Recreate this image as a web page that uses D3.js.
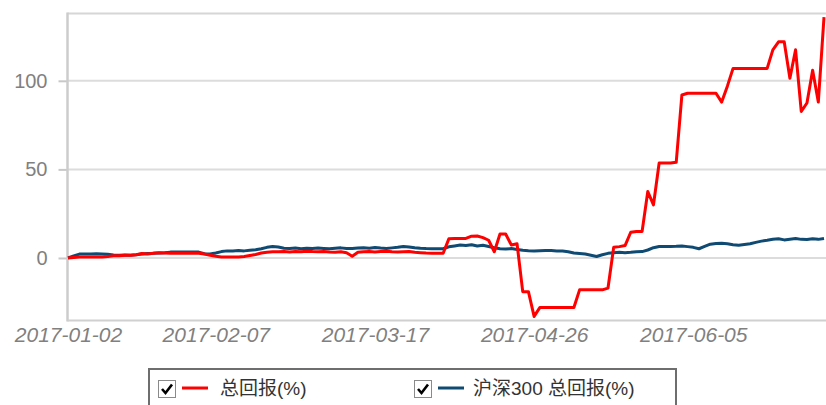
<!DOCTYPE html>
<html>
<head>
<meta charset="utf-8">
<script src="https://cdn.jsdelivr.net/npm/d3@7"></script>
<style>
  body { margin: 0; background: #fff; }
  svg { display: block; font-family: "Liberation Sans", Arial, "Noto Sans CJK SC", sans-serif; }
</style>
</head>
<body>
<div id="chart-area"></div>
<script>
const dates = [
  "2017-01-02","2017-01-03","2017-01-04","2017-01-05","2017-01-06","2017-01-09","2017-01-10","2017-01-11","2017-01-12","2017-01-13",
  "2017-01-16","2017-01-17","2017-01-18","2017-01-19","2017-01-20","2017-01-23","2017-01-24","2017-01-25","2017-01-26","2017-01-27",
  "2017-01-30","2017-01-31","2017-02-01","2017-02-02","2017-02-03","2017-02-06","2017-02-07","2017-02-08","2017-02-09","2017-02-10",
  "2017-02-13","2017-02-14","2017-02-15","2017-02-16","2017-02-17","2017-02-20","2017-02-21","2017-02-22","2017-02-23","2017-02-24",
  "2017-02-27","2017-02-28","2017-03-01","2017-03-02","2017-03-03","2017-03-06","2017-03-07","2017-03-08","2017-03-09","2017-03-10",
  "2017-03-13","2017-03-14","2017-03-15","2017-03-16","2017-03-17","2017-03-20","2017-03-21","2017-03-22","2017-03-23","2017-03-24",
  "2017-03-27","2017-03-28","2017-03-29","2017-03-30","2017-03-31","2017-04-03","2017-04-04","2017-04-05","2017-04-06","2017-04-07",
  "2017-04-10","2017-04-11","2017-04-12","2017-04-13","2017-04-14","2017-04-17","2017-04-18","2017-04-19","2017-04-20","2017-04-21",
  "2017-04-24","2017-04-25","2017-04-26","2017-04-27","2017-04-28","2017-05-01","2017-05-02","2017-05-03","2017-05-04","2017-05-05",
  "2017-05-08","2017-05-09","2017-05-10","2017-05-11","2017-05-12","2017-05-15","2017-05-16","2017-05-17","2017-05-18","2017-05-19",
  "2017-05-22","2017-05-23","2017-05-24","2017-05-25","2017-05-26","2017-05-29","2017-05-30","2017-05-31","2017-06-01","2017-06-02",
  "2017-06-05","2017-06-06","2017-06-07","2017-06-08","2017-06-09","2017-06-12","2017-06-13","2017-06-14","2017-06-15","2017-06-16",
  "2017-06-19","2017-06-20","2017-06-21","2017-06-22","2017-06-23","2017-06-26","2017-06-27","2017-06-28","2017-06-29","2017-06-30",
  "2017-07-03","2017-07-04","2017-07-05","2017-07-06"
];

// 总回报(%)
const fundReturn = [
  0, 0.3, 0.5, 0.5, 0.6, 0.6, 0.5, 0.8, 1.2, 1.3,
  1.5, 1.5, 1.8, 2.5, 2.3, 2.7, 3.0, 2.8, 2.6, 2.6,
  2.6, 2.6, 2.6, 2.6, 2.2, 1.5, 1.0, 0.6, 0.5, 0.5,
  0.6, 0.8, 1.4, 2.0, 2.8, 3.2, 3.5, 3.5, 3.7, 3.4,
  3.6, 3.5, 3.8, 3.6, 3.5, 3.7, 3.4, 3.2, 3.5, 3.0,
  1.0, 3.2, 3.5, 3.6, 3.4, 3.6, 3.8, 3.5, 3.3, 3.5,
  3.6, 3.2, 3.0, 2.8, 2.7, 2.7, 2.7, 10.8, 11, 11,
  11, 12.3, 12.4, 11.5, 10, 3.5, 13.5, 13.5, 7.3, 8,
  -19, -19, -33, -28, -28, -28, -28, -28, -28, -28,
  -18, -18, -18, -18, -18, -17, 6, 6.4, 7, 14.5,
  14.9, 15, 37.5, 30, 53.6, 53.6, 53.6, 54, 92, 93,
  93, 93, 93, 93, 93, 88, 97, 107, 107, 107,
  107, 107, 107, 107, 117.5, 122, 122, 101.5, 117.5, 82.7,
  87.5, 106, 88, 136
];

// 沪深300 总回报(%)
const indexReturn = [
  0, 1.2, 2.2, 2.3, 2.3, 2.4, 2.3, 2.1, 1.7, 1.6,
  1.7, 1.6, 1.8, 2.2, 2.5, 2.6, 2.8, 3.0, 3.3, 3.3,
  3.3, 3.3, 3.3, 3.3, 2.4, 2.2, 2.8, 3.6, 4.0, 4.0,
  4.2, 4.0, 4.3, 4.6, 5.2, 6.0, 6.5, 6.2, 5.5, 5.4,
  5.6, 5.2, 5.5, 5.3, 5.6, 5.4, 5.2, 5.5, 5.7, 5.4,
  5.3, 5.6, 5.8, 5.5, 5.9, 5.6, 5.4, 5.7, 6.0, 6.5,
  6.2, 5.8, 5.5, 5.3, 5.2, 5.2, 5.2, 6.3, 6.8, 7.3,
  7.0, 7.5, 6.8, 7.2, 6.5, 5.8, 5.2, 5.0, 5.3, 4.8,
  4.3, 4.1, 4.0, 4.1, 4.2, 4.2, 4.0, 3.9, 3.5, 2.8,
  2.5, 2.2, 1.5, 0.8, 1.8, 2.6, 3.0, 3.2, 3.0, 3.2,
  3.5, 3.6, 4.5, 5.8, 6.5, 6.5, 6.5, 6.6, 6.8, 6.4,
  6.0, 5.2, 6.5, 7.8, 8.2, 8.3, 8.0, 7.5, 7.2, 7.6,
  8.0, 8.8, 9.5, 10.0, 10.6, 10.8, 10.2, 10.6, 11.0, 10.5,
  10.4, 10.8, 10.5, 11.0
];

const xTickLabels = ["2017-01-02", "2017-02-07", "2017-03-17", "2017-04-26", "2017-06-05"];
const yTicks = [0, 50, 100];
const seriesNames = ["总回报(%)", "沪深300 总回报(%)"];
const seriesColors = ["#ff0000", "#0f4a73"];

const width = 826, height = 405;
const plot = { left: 67.5, right: 826, top: 13.5, bottom: 320.5 };

const svg = d3
  .select("#chart-area")
  .append("svg")
  .attr("width", width)
  .attr("height", height);

// Scales (x follows the row index, so non-trading gaps are skipped)
const xScale = d3.scaleLinear().domain([0, dates.length - 1]).range([68, 824]);
const yScale = d3.scaleLinear().domain([-35.3, 138]).range([plot.bottom, plot.top]);

// grid lines and frame
svg
  .append("g")
  .selectAll("line")
  .data(yTicks)
  .enter()
  .append("line")
  .attr("x1", plot.left)
  .attr("x2", plot.right)
  .attr("y1", d => yScale(d))
  .attr("y2", d => yScale(d))
  .attr("stroke", "#dcdcdc")
  .attr("stroke-width", 2);

svg
  .append("line")
  .attr("x1", plot.left)
  .attr("x2", plot.right)
  .attr("y1", plot.top)
  .attr("y2", plot.top)
  .attr("stroke", "#d6d6d6")
  .attr("stroke-width", 2);

// Y axis
const yAxisGroup = svg
  .append("g")
  .attr("transform", `translate(${plot.left},0)`)
  .call(d3.axisLeft(yScale).tickValues(yTicks).tickSize(9).tickSizeOuter(0).tickPadding(11));

yAxisGroup.select(".domain").remove();
yAxisGroup.selectAll(".tick line").attr("stroke", "#c8c8c8").attr("stroke-width", 2);
yAxisGroup
  .selectAll(".tick text")
  .attr("fill", "#808080")
  .attr("font-size", "20px")
  .attr("font-family", "'Liberation Sans', Arial, sans-serif");

svg
  .append("line")
  .attr("x1", plot.left)
  .attr("x2", plot.left)
  .attr("y1", plot.top - 1)
  .attr("y2", plot.bottom + 1)
  .attr("stroke", "#cccccc")
  .attr("stroke-width", 2.5);

// X axis
const xAxisGroup = svg
  .append("g")
  .attr("transform", `translate(0,${plot.bottom})`)
  .call(
    d3
      .axisBottom(xScale)
      .tickValues(xTickLabels.map(d => dates.indexOf(d)))
      .tickFormat(i => dates[i])
      .tickSize(0)
      .tickPadding(7)
  );

xAxisGroup
  .select(".domain")
  .attr("d", `M${plot.left},0H${plot.right}`)
  .attr("stroke", "#d0d0d0")
  .attr("stroke-width", 2);
xAxisGroup
  .selectAll(".tick text")
  .attr("fill", "#808080")
  .attr("font-size", "21px")
  .attr("font-style", "italic")
  .attr("font-family", "'Liberation Sans', Arial, sans-serif");

// lines
const series = [fundReturn, indexReturn];
const line = d3
  .line()
  .x((d, i) => xScale(i))
  .y(d => yScale(d));

svg
  .append("g")
  .selectAll("path")
  .data([series[1], series[0]])
  .enter()
  .append("path")
  .attr("d", line)
  .attr("fill", "none")
  .attr("stroke", (d, i) => (i === 0 ? seriesColors[1] : seriesColors[0]))
  .attr("stroke-width", 3)
  .attr("stroke-linejoin", "round");

// Legend
const legend = svg.append("g");
legend
  .append("rect")
  .attr("x", 149)
  .attr("y", 369)
  .attr("width", 527)
  .attr("height", 60)
  .attr("fill", "#fff")
  .attr("stroke", "#6e6e6e")
  .attr("stroke-width", 2);

const itemX = [158, 414];
const items = legend
  .selectAll("g.item")
  .data(seriesNames)
  .enter()
  .append("g")
  .attr("class", "item")
  .attr("transform", (d, i) => `translate(${itemX[i]},380)`);

items
  .append("rect")
  .attr("x", 0.5)
  .attr("y", 0.5)
  .attr("width", 17)
  .attr("height", 17)
  .attr("fill", "#fff")
  .attr("stroke", "#8a8a8a");

items
  .append("path")
  .attr("d", "M4,9 L7.5,13 L14,4.5")
  .attr("fill", "none")
  .attr("stroke", "#000")
  .attr("stroke-width", 2.6);

items
  .append("line")
  .attr("x1", 24)
  .attr("x2", 50)
  .attr("y1", 8)
  .attr("y2", 8)
  .attr("stroke", (d, i) => seriesColors[i])
  .attr("stroke-width", 3);

items
  .append("text")
  .attr("x", (d, i) => (i === 0 ? 62 : 59))
  .attr("y", 15)
  .attr("fill", "#333")
  .attr("font-size", "19px")
  .text(d => d);
</script>
</body>
</html>
